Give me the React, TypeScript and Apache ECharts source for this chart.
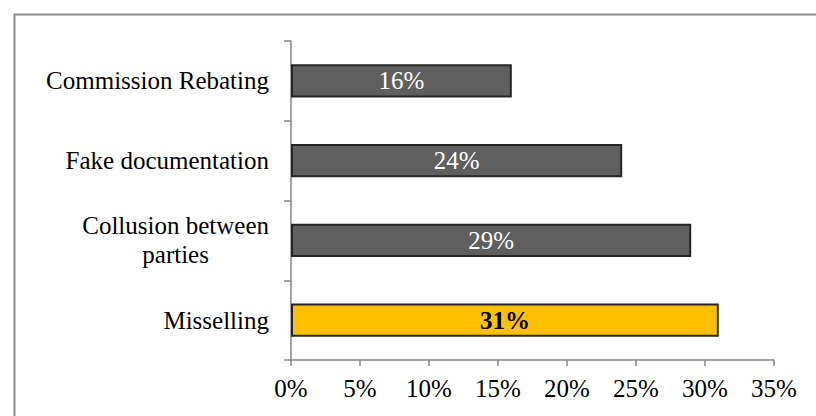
import React, { useEffect, useRef } from "react";
import * as echarts from "echarts";

const categories = ["Misselling", "Collusion between\nparties", "Fake documentation", "Commission Rebating"];
const values = [31, 29, 24, 16];
const barColors = ["#FFC000", "#5F5F5F", "#5F5F5F", "#5F5F5F"];
const labelColors = ["#000000", "#FFFFFF", "#FFFFFF", "#FFFFFF"];
const labelWeights = ["bold", "normal", "normal", "normal"];

const FONT = "'Liberation Serif', 'DejaVu Serif', serif";

export default function App() {
  const ref = useRef<HTMLDivElement>(null);
  useEffect(() => {
    if (!ref.current) return;
    const chart = echarts.init(ref.current, null, { renderer: "svg" });
    chart.setOption({
      animation: false,
      backgroundColor: "#FFFFFF",
      graphic: [
        {
          type: "rect",
          left: 12,
          top: 12,
          shape: { x: 0, y: 0, width: 830, height: 430 },
          style: { fill: "none", stroke: "#8C8C8C", lineWidth: 2 },
          silent: true,
        },
      ],
      grid: { left: 291, right: 42, top: 41, bottom: 56 },
      xAxis: {
        type: "value",
        min: 0,
        max: 35,
        interval: 5,
        axisLine: { show: true, lineStyle: { color: "#868686", width: 1.5 } },
        axisTick: { show: true, length: 6, lineStyle: { color: "#868686", width: 1.5 } },
        splitLine: { show: false },
        axisLabel: {
          formatter: "{value}%",
          fontFamily: FONT,
          fontSize: 25,
          color: "#000",
          margin: 16,
        },
      },
      yAxis: {
        type: "category",
        data: categories,
        axisLine: { show: true, lineStyle: { color: "#868686", width: 1.5 } },
        axisTick: { show: true, length: 7, lineStyle: { color: "#868686", width: 1.5 } },
        axisLabel: {
          fontFamily: FONT,
          fontSize: 25,
          color: "#000",
          margin: 22,
          lineHeight: 29,
          formatter: (v: string) =>
            v
              .split("\n")
              .map((s) => `{c|${s}}`)
              .join("\n"),
          rich: {
            c: { align: "center", fontFamily: FONT, fontSize: 25, color: "#000", lineHeight: 29 },
          },
        },
      },
      series: [
        {
          type: "bar",
          barWidth: "42%",
          data: values.map((v, i) => ({
            value: v,
            itemStyle: { color: barColors[i], borderColor: "#262626", borderWidth: 2 },
            label: { color: labelColors[i], fontWeight: labelWeights[i] },
          })),
          label: {
            show: true,
            position: "inside",
            formatter: "{c}%",
            fontFamily: FONT,
            fontSize: 25,
          },
        },
      ],
    });
    return () => chart.dispose();
  }, []);
  return (
    <div
      ref={ref}
      style={{ position: "fixed", left: 0, top: 0, width: 816, height: 416 }}
    />
  );
}
